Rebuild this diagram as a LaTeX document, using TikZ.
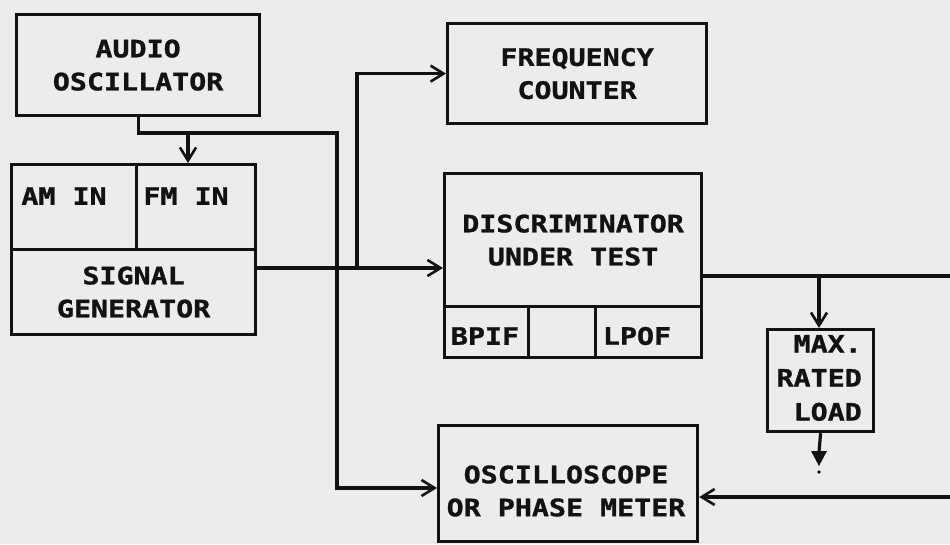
\documentclass[tikz,border=0pt]{standalone}
\usepackage{fontspec}
\newfontfamily\plotfont[FakeStretch=1.18, FakeBold=1.2]{DejaVu Sans Mono}
\usetikzlibrary{arrows.meta}
\definecolor{paper}{RGB}{236,236,234}
\definecolor{ink}{RGB}{18,18,18}
\tikzset{
  blk/.style={draw=ink, line width=3.2pt, inner sep=0pt, anchor=north west},
  lbl/.style={font=\plotfont\bfseries\fontsize{24}{33}\selectfont, text=ink, align=center, inner sep=0pt},
  wire/.style={draw=ink, line width=3.2pt},
  arr/.style={wire, -{Straight Barb[length=13pt,width=16pt,line width=2.6pt]}},
}
\begin{document}
\begin{tikzpicture}[x=1pt,y=-1pt]
\fill[paper] (0,0) rectangle (950,544);
\useasboundingbox (0,0) rectangle (950,544);

% blocks
\node[blk, lbl, minimum width=243pt, minimum height=101pt] (ao) at (15,13) {AUDIO\\OSCILLATOR};
\node[blk, minimum width=125pt, minimum height=85pt] (am) at (10,163) {};
\node[blk, minimum width=119pt, minimum height=85pt] (fm) at (135,163) {};
\node[blk, lbl, minimum width=244pt, minimum height=85pt] (sgb) at (10,248) {SIGNAL\\GENERATOR};
\node[lbl] (amt) at (64,196) {AM IN};
\node[lbl] (fmt) at (186,196) {FM IN};

\node[blk, lbl, minimum width=259pt, minimum height=100pt] (fc) at (446,22) {FREQUENCY\\COUNTER};

\node[blk, lbl, minimum width=257pt, minimum height=133pt] (disc) at (443,172) {DISCRIMINATOR\\UNDER TEST};
\node[blk, minimum width=84pt, minimum height=51pt] (bpif) at (443,305) {};
\node[blk, minimum width=67pt, minimum height=51pt] (mid) at (527,305) {};
\node[blk, minimum width=106pt, minimum height=51pt] (lpof) at (594,305) {};
\node[lbl] (bpift) at (485,336) {BPIF};
\node[lbl] (lpoft) at (637,336) {LPOF};

\node[blk, minimum width=106pt, minimum height=102pt] (max) at (766,328) {};
\node[lbl, align=right, anchor=east, font=\plotfont\bfseries\fontsize{24}{34}\selectfont] (maxt) at (862,378) {MAX.\\RATED\\LOAD};

\node[blk, minimum width=259pt, minimum height=116pt] (osc) at (437,424) {};
\node[lbl] (osct) at (566,491) {OSCILLOSCOPE\\OR PHASE METER};

% ports
\coordinate (j1) at (188,133);
\coordinate (c1) at (337,133);
\coordinate (oscin) at (437,488);
\coordinate (sgout) at (254,268);
\coordinate (j2) at (357,268);
\coordinate (dout) at (700,276);
\coordinate (rt) at (950,276);
\coordinate (j3) at (819,276);
\coordinate (rt2) at (950,497);
\coordinate (gnd) at (819,452);

% connectors
\draw[arr] (ao.south) |- (c1) |- (oscin);
\draw[arr] (j1) -- (j1 |- fm.north);
\draw[arr] (sgout) -- (sgout -| disc.west);
\draw[arr] (j2) |- (fc.west);
\draw[wire] (dout) -- (rt);
\draw[arr] (j3) -- (j3 |- max.north);
\draw[arr] (rt2) -- (rt2 -| osc.east);
\draw[wire] (max.south) -- (gnd);
\fill[ink] (811,451) -- (827,451) -- (819,466) -- cycle;
\fill[ink] (819,472) circle (1.8pt);
\end{tikzpicture}
\end{document}
